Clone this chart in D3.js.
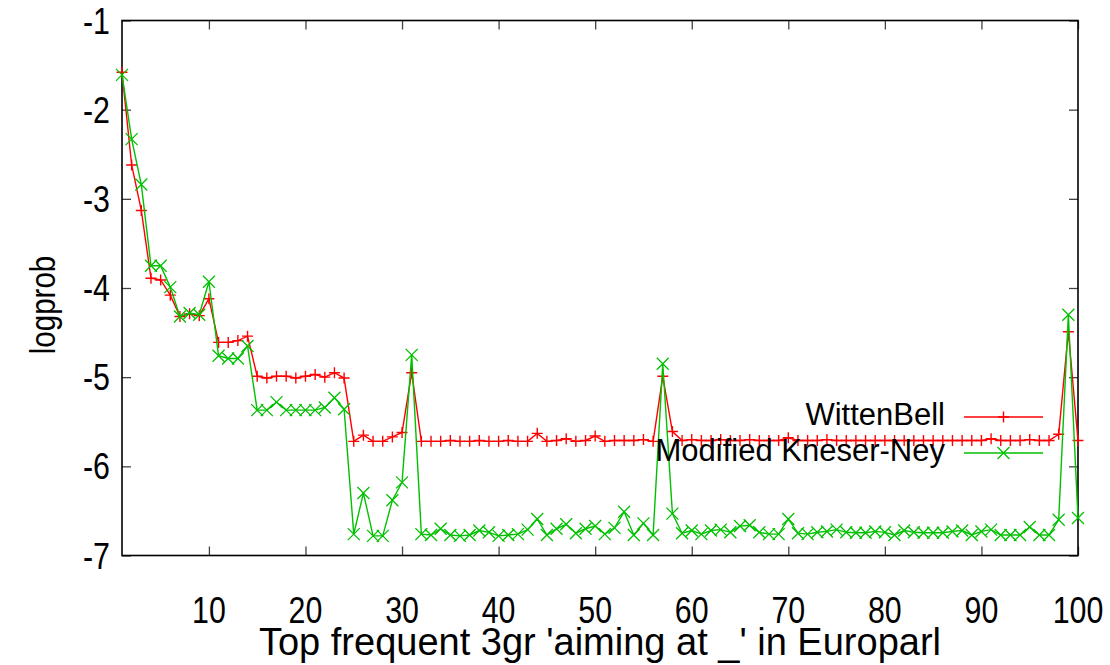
<!DOCTYPE html>
<html><head><meta charset="utf-8">
<script src="https://cdn.jsdelivr.net/npm/d3@7"></script>
<style>
body{margin:0;background:#fff}
svg{display:block}
text{font-family:"Liberation Sans",Arial,Helvetica,sans-serif;fill:#000}
</style>
</head><body>
<svg id="chart" width="1110" height="665"></svg>
<script>
// rank of the trigram (1..100)
const ranks = d3.range(1, 101);

const wittenBell = [
  -1.58,-2.62,-3.13,-3.89,-3.91,-4.08,-4.32,-4.29,-4.31,-4.12,
  -4.61,-4.61,-4.59,-4.54,-4.99,-5.01,-4.99,-4.99,-5.01,-4.99,
  -4.97,-5.00,-4.95,-5.01,-5.72,-5.65,-5.72,-5.72,-5.67,-5.62,
  -4.95,-5.72,-5.72,-5.72,-5.71,-5.72,-5.72,-5.71,-5.72,-5.72,
  -5.71,-5.72,-5.72,-5.63,-5.72,-5.71,-5.69,-5.72,-5.71,-5.66,
  -5.72,-5.71,-5.71,-5.71,-5.70,-5.72,-4.99,-5.61,-5.71,-5.70,
  -5.71,-5.71,-5.70,-5.71,-5.71,-5.70,-5.71,-5.71,-5.71,-5.68,
  -5.71,-5.71,-5.71,-5.70,-5.71,-5.71,-5.71,-5.71,-5.71,-5.71,
  -5.71,-5.71,-5.71,-5.71,-5.71,-5.71,-5.71,-5.71,-5.71,-5.71,
  -5.69,-5.71,-5.71,-5.71,-5.70,-5.71,-5.71,-5.64,-4.49,-5.71
];

const kneserNey = [
  -1.61,-2.33,-2.84,-3.75,-3.75,-3.99,-4.32,-4.28,-4.30,-3.93,
  -4.76,-4.79,-4.79,-4.65,-5.37,-5.37,-5.28,-5.37,-5.37,-5.37,
  -5.37,-5.34,-5.23,-5.36,-6.76,-6.30,-6.78,-6.78,-6.38,-6.18,
  -4.75,-6.76,-6.77,-6.70,-6.77,-6.78,-6.77,-6.72,-6.74,-6.78,
  -6.77,-6.76,-6.71,-6.59,-6.77,-6.70,-6.65,-6.75,-6.70,-6.67,
  -6.76,-6.69,-6.51,-6.77,-6.64,-6.77,-4.85,-6.53,-6.75,-6.72,
  -6.76,-6.72,-6.71,-6.74,-6.67,-6.66,-6.74,-6.76,-6.76,-6.59,
  -6.75,-6.76,-6.74,-6.73,-6.71,-6.74,-6.745,-6.745,-6.73,-6.74,
  -6.77,-6.72,-6.74,-6.745,-6.745,-6.745,-6.73,-6.72,-6.77,-6.73,
  -6.71,-6.77,-6.77,-6.77,-6.68,-6.77,-6.77,-6.60,-4.30,-6.58
];

const seriesNames = ["WittenBell", "Modified Kneser-Ney"];
const xTickValues = [10, 20, 30, 40, 50, 60, 70, 80, 90, 100];
const yTickValues = [-1, -2, -3, -4, -5, -6, -7];
const xTitle = "Top frequent 3gr 'aiming at _' in Europarl";
const yTitle = "logprob";

const svg = d3.select("#chart");
const L = 122, R = 1078, T = 20.5, B = 555.5;
const x = d3.scaleLinear().domain([1, 100]).range([L, R]);
const y = d3.scaleLinear().domain([-7, -1]).range([B, T]);

const tickLen = 9;
const fsTick = 37;      // condensed (narrow) face
const narrow = 0.82;

// ticks (inward, mirrored)
const gAxes = svg.append("g");
const bottomAxis = d3.axisBottom(x).tickValues(xTickValues).tickSize(-tickLen).tickFormat("");
const topAxis = d3.axisTop(x).tickValues(xTickValues).tickSize(-tickLen).tickFormat("");
const leftAxis = d3.axisLeft(y).tickValues(yTickValues).tickSize(-tickLen).tickFormat("");
const rightAxis = d3.axisRight(y).tickValues(yTickValues).tickSize(-tickLen).tickFormat("");
[[bottomAxis, `translate(0,${B})`], [topAxis, `translate(0,${T})`],
 [leftAxis, `translate(${L},0)`], [rightAxis, `translate(${R},0)`]].forEach(([ax, tr]) => {
  const g = gAxes.append("g").attr("transform", tr).call(ax);
  g.select(".domain").remove();
  g.selectAll(".tick line").attr("stroke", "#444").attr("stroke-width", 1.3);
});

// tick labels
svg.append("g").selectAll("text").data(xTickValues).join("text")
  .attr("transform", d => `translate(${x(d)},623) scale(${narrow},1)`)
  .attr("text-anchor", "middle").attr("font-size", fsTick).text(d => d);
svg.append("g").selectAll("text").data(yTickValues).join("text")
  .attr("transform", d => `translate(110,${y(d) + 13}) scale(${narrow},1)`)
  .attr("text-anchor", "end").attr("font-size", fsTick).text(d => d);

// axis titles
svg.append("text").attr("x", 600).attr("y", 655).attr("text-anchor", "middle")
  .attr("font-size", 38).text(xTitle);
svg.append("text").attr("transform", `translate(55,305) rotate(-90) scale(${narrow},1)`)
  .attr("text-anchor", "middle").attr("font-size", 36).text(yTitle);

// frame
svg.append("rect").attr("x", L).attr("y", T).attr("width", R - L).attr("height", B - T)
  .attr("fill", "none").attr("stroke", "#000").attr("stroke-width", 1.6);

const colors = ["#ff0000", "#00c000"];
const series = [wittenBell, kneserNey];
const line = d3.line().x((d, i) => x(ranks[i])).y(d => y(d));

function plus(g, cx, cy, s, c) {
  g.append("path").attr("d", `M${cx - s},${cy}H${cx + s}M${cx},${cy - s}V${cy + s}`)
    .attr("stroke", c).attr("stroke-width", 1.4).attr("fill", "none");
}
function cross(g, cx, cy, s, c) {
  g.append("path").attr("d", `M${cx - s},${cy - s}L${cx + s},${cy + s}M${cx - s},${cy + s}L${cx + s},${cy - s}`)
    .attr("stroke", c).attr("stroke-width", 1.3).attr("fill", "none");
}
const markers = [plus, cross];
const msize = [5.5, 6];

series.forEach((vals, k) => {
  const g = svg.append("g");
  g.append("path").datum(vals).attr("d", line)
    .attr("fill", "none").attr("stroke", colors[k]).attr("stroke-width", 1.4);
  vals.forEach((v, i) => markers[k](g, x(ranks[i]), y(v), msize[k], colors[k]));
});

// legend
const legY = [417, 453];
seriesNames.forEach((name, k) => {
  const g = svg.append("g");
  g.append("line").attr("x1", 964).attr("x2", 1043).attr("y1", legY[k]).attr("y2", legY[k])
    .attr("stroke", colors[k]).attr("stroke-width", 1.4);
  markers[k](g, 1003.5, legY[k], msize[k], colors[k]);
  g.append("text").attr("x", 945).attr("y", legY[k] + 8).attr("text-anchor", "end")
    .attr("font-size", 31).text(name);
});
</script>
</body></html>
